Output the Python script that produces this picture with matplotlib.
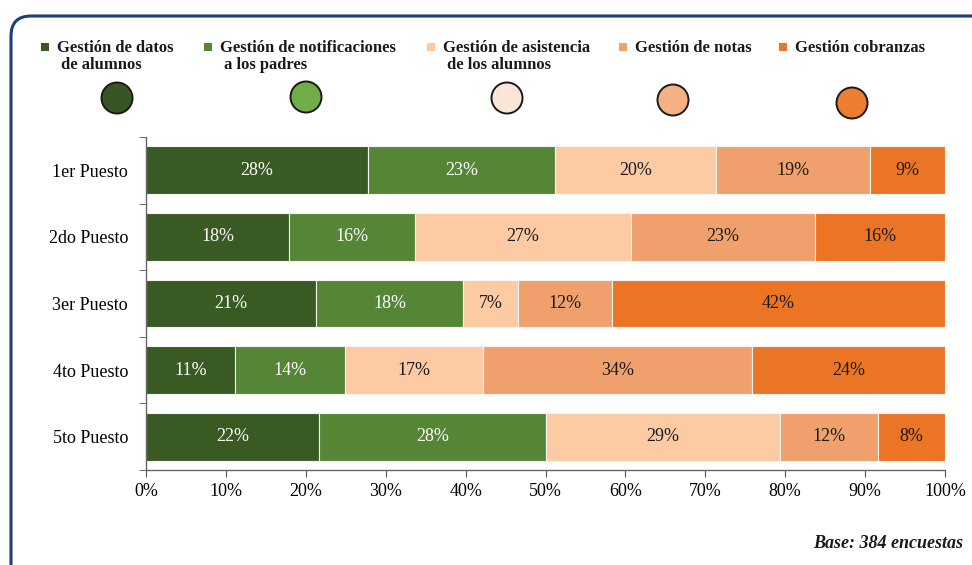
import numpy as np
import matplotlib
matplotlib.use("Agg")
import matplotlib.pyplot as plt
from matplotlib.patches import FancyBboxPatch, Circle, Rectangle

plt.rcParams['font.family'] = ['Liberation Serif', 'DejaVu Serif']

# ranking of management modules (share of respondents per position)
puestos = ['1er Puesto', '2do Puesto', '3er Puesto', '4to Puesto', '5to Puesto']
modulos = ['Gestión de datos\n de alumnos',
           'Gestión de notificaciones\n a los padres',
           'Gestión de asistencia\n de los alumnos',
           'Gestión de notas',
           'Gestión cobranzas']
datos_alumnos = [27.8, 17.9, 21.3, 11.1, 21.7]
notificaciones = [23.4, 15.8, 18.4, 13.8, 28.4]
asistencia = [20.1, 27.0, 6.9, 17.3, 29.2]
notas = [19.3, 23.0, 11.7, 33.6, 12.3]
cobranzas = [9.4, 16.3, 41.7, 24.2, 8.4]
x_ticks = [0, 10, 20, 30, 40, 50, 60, 70, 80, 90, 100]
nota_base = 'Base: 384 encuestas'

series = [datos_alumnos, notificaciones, asistencia, notas, cobranzas]
bar_colors = ['#3A5A24', '#558636', '#FCCBA4', '#F0A06C', '#EB7425']
dot_colors = ['#375623', '#70AD47', '#FBE5D6', '#F4B183', '#ED7D31']
txt_colors = ['white', 'white', '#1a1a1a', '#1a1a1a', '#1a1a1a']

W, H = 972, 565
fig = plt.figure(figsize=(W / 100, H / 100), dpi=100)

# pixel-space overlay for frame, legend and circles
ov = fig.add_axes([0, 0, 1, 1])
ov.set_xlim(0, W)
ov.set_ylim(H, 0)
ov.axis('off')
ov.add_patch(FancyBboxPatch((11, 16), 1000, 600,
                            boxstyle='round,pad=0,rounding_size=20',
                            fill=False, edgecolor='#1F3C7C', linewidth=2.2))

leg_x = [45, 208, 431, 623, 783]
for i, (lab, c) in enumerate(zip(modulos, bar_colors)):
    ov.add_patch(Rectangle((leg_x[i] - 4, 43), 8, 8, facecolor=c, edgecolor='none'))
    ov.text(leg_x[i] + 12, 39.5, lab, ha='left', va='top', fontsize=12,
            fontweight='bold', color='#1a1a1a', linespacing=1.1)

dot_xy = [(117, 98), (306, 97), (507, 98), (673, 100), (852, 103)]
for (cx, cy), c in zip(dot_xy, dot_colors):
    ov.add_patch(Circle((cx, cy), 15.5, facecolor=c, edgecolor='#1a1a1a', linewidth=1.4))

ov.text(963, 543, nota_base, ha='right', va='center', fontsize=13,
        fontweight='bold', fontstyle='italic', color='#1a1a1a')

# stacked 100% bar chart
ax = fig.add_axes([146 / W, 1 - 470 / H, 799 / W, 333 / H])
ax.patch.set_alpha(0)
y = np.arange(len(puestos))
left = np.zeros(len(puestos))
for vals, c, tc in zip(series, bar_colors, txt_colors):
    vals = np.array(vals)
    ax.barh(y, vals, left=left, height=0.72, color=c, edgecolor='#f4f4f4', linewidth=0.8)
    for yi, l, v in zip(y, left, vals):
        ax.text(l + v / 2, yi, f'{v:.0f}%', ha='center', va='center',
                fontsize=13, color=tc)
    left += vals

ax.set_xlim(0, 100)
ax.set_ylim(len(puestos) - 0.5, -0.5)
ax.set_xticks(x_ticks)
ax.set_xticklabels([f'{t}%' for t in x_ticks], fontsize=13)
ax.set_yticks(y)
ax.set_yticklabels(puestos, fontsize=13)
ax.set_yticks(np.arange(len(puestos) + 1) - 0.5, minor=True)
ax.tick_params(axis='y', which='major', length=0, pad=13)
ax.tick_params(axis='y', which='minor', length=5, direction='out', color='#555555')
ax.tick_params(axis='x', length=5, direction='out', color='#555555', pad=4)
for s in ['top', 'right']:
    ax.spines[s].set_visible(False)
for s in ['left', 'bottom']:
    ax.spines[s].set_color('#666666')
    ax.spines[s].set_linewidth(1.0)

fig.savefig('out.png', dpi=100)
